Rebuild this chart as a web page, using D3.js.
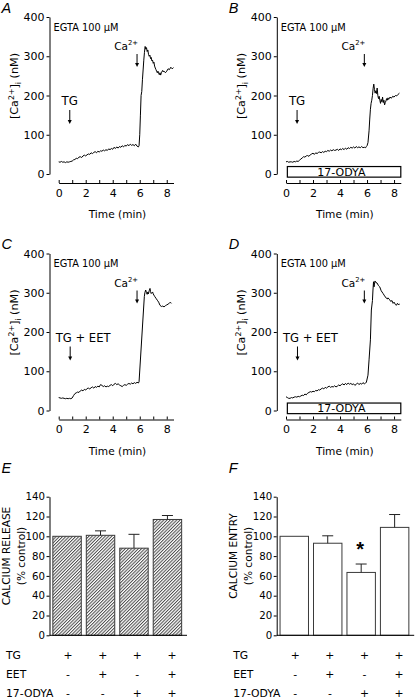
<!DOCTYPE html>
<html><head><meta charset="utf-8">
<script src="https://cdn.jsdelivr.net/npm/d3@7"></script>
<style>
body{margin:0;background:#fff}
svg{display:block;font-family:"DejaVu Sans",sans-serif}
</style></head><body>
<svg id="c" width="415" height="699"></svg>
<script>
// ---------- DATA ----------
const traceA = [[0,31],[0.1,30],[0.2,32],[0.3,30],[0.4,31],[0.5,29],[0.6,31],[0.7,30],[0.8,31],[0.9,32],[1.0,33],[1.1,36],[1.2,37],[1.3,40],[1.4,39],[1.5,43],[1.6,44],[1.7,42],[1.8,46],[1.9,48],[2.0,46],[2.1,49],[2.2,51],[2.3,50],[2.4,54],[2.5,52],[2.6,55],[2.7,57],[2.8,54],[2.9,58],[3.0,56],[3.1,59],[3.2,58],[3.3,61],[3.4,59],[3.5,62],[3.6,60],[3.7,64],[3.8,62],[3.9,65],[4.0,63],[4.1,68],[4.2,65],[4.3,69],[4.4,66],[4.5,70],[4.6,68],[4.7,72],[4.8,69],[4.9,73],[5.0,71],[5.1,75],[5.2,72],[5.3,76],[5.4,73],[5.5,75],[5.6,72],[5.7,76],[5.8,71],[5.9,69],[5.95,72],[6.0,100],[6.05,150],[6.1,200],[6.15,210],[6.2,240],[6.25,265],[6.3,290],[6.35,310],[6.4,325],[6.45,318],[6.5,322],[6.55,312],[6.6,316],[6.65,305],[6.7,300],[6.75,303],[6.8,294],[6.85,297],[6.9,288],[6.95,290],[7.0,282],[7.05,285],[7.1,275],[7.15,270],[7.2,266],[7.25,262],[7.3,258],[7.35,262],[7.4,256],[7.45,253],[7.5,258],[7.55,252],[7.6,258],[7.7,264],[7.75,260],[7.8,262],[7.9,258],[8.0,262],[8.1,268],[8.2,266],[8.3,272],[8.4,268],[8.5,271]];
const traceB = [[0,31],[0.1,32],[0.2,30],[0.3,31],[0.4,31],[0.5,30],[0.6,32],[0.7,31],[0.8,33],[0.9,32],[1.0,35],[1.1,38],[1.2,41],[1.3,44],[1.4,43],[1.5,46],[1.6,47],[1.7,45],[1.8,49],[1.9,51],[2.0,53],[2.1,50],[2.2,54],[2.3,52],[2.4,55],[2.5,56],[2.6,54],[2.7,57],[2.8,55],[2.9,58],[3.0,57],[3.1,60],[3.2,58],[3.3,61],[3.4,59],[3.5,62],[3.6,60],[3.7,61],[3.8,63],[3.9,60],[4.0,64],[4.1,62],[4.2,65],[4.3,62],[4.4,66],[4.5,63],[4.6,67],[4.7,65],[4.8,68],[4.9,66],[5.0,69],[5.1,66],[5.2,70],[5.3,67],[5.4,69],[5.5,67],[5.6,70],[5.7,67],[5.8,68],[5.9,67],[5.95,70],[6.0,72],[6.07,80],[6.15,110],[6.2,140],[6.25,165],[6.3,180],[6.35,188],[6.4,200],[6.45,218],[6.5,229],[6.55,215],[6.6,206],[6.65,212],[6.7,205],[6.75,219],[6.8,200],[6.85,192],[6.9,198],[6.95,188],[7.0,180],[7.05,190],[7.1,184],[7.15,196],[7.2,182],[7.25,188],[7.3,176],[7.35,182],[7.4,186],[7.45,192],[7.5,188],[7.55,194],[7.6,190],[7.7,196],[7.8,193],[7.9,198],[8.0,196],[8.1,200],[8.2,199],[8.3,203],[8.4,206]];
const traceC = [[0,33],[0.1,32],[0.2,31],[0.3,32],[0.4,31],[0.5,30],[0.6,31],[0.7,30],[0.8,31],[0.9,30],[1.0,32],[1.1,38],[1.2,43],[1.3,45],[1.4,47],[1.5,46],[1.6,50],[1.7,52],[1.8,50],[1.9,54],[2.0,52],[2.1,56],[2.2,57],[2.3,55],[2.4,58],[2.5,60],[2.6,57],[2.7,61],[2.8,59],[2.9,62],[3.0,60],[3.1,66],[3.2,64],[3.3,61],[3.4,63],[3.5,60],[3.6,62],[3.7,61],[3.8,64],[3.9,66],[4.0,63],[4.1,67],[4.2,69],[4.3,66],[4.4,68],[4.5,65],[4.6,63],[4.7,61],[4.8,64],[4.9,66],[5.0,64],[5.1,67],[5.2,69],[5.3,67],[5.4,70],[5.5,68],[5.6,71],[5.7,69],[5.8,72],[5.9,70],[5.95,73],[6.34,290],[6.38,300],[6.44,307],[6.5,300],[6.55,296],[6.6,302],[6.64,297],[6.7,305],[6.76,311],[6.8,303],[6.85,298],[6.9,300],[6.95,302],[7.0,297],[7.05,294],[7.1,291],[7.2,286],[7.3,281],[7.4,276],[7.5,268],[7.6,265],[7.7,266],[7.8,264],[7.9,267],[8.0,269],[8.1,271],[8.2,274],[8.3,275],[8.35,273]];
const traceD = [[0,35],[0.1,33],[0.2,31],[0.3,31],[0.4,33],[0.5,32],[0.6,34],[0.7,35],[0.8,34],[0.9,36],[1.0,35],[1.1,37],[1.2,39],[1.3,38],[1.4,42],[1.5,40],[1.6,44],[1.7,46],[1.8,48],[1.9,47],[2.0,49],[2.1,48],[2.2,51],[2.3,50],[2.4,53],[2.5,52],[2.6,55],[2.7,57],[2.8,55],[2.9,59],[3.0,57],[3.1,60],[3.2,62],[3.3,59],[3.4,61],[3.5,60],[3.6,63],[3.7,60],[3.8,62],[3.9,65],[4.0,63],[4.1,66],[4.2,68],[4.3,65],[4.4,69],[4.5,66],[4.6,70],[4.7,67],[4.8,69],[4.9,66],[5.0,68],[5.1,64],[5.2,67],[5.3,70],[5.4,66],[5.5,69],[5.6,67],[5.7,71],[5.8,68],[5.9,70],[5.95,72],[6.07,90],[6.15,129],[6.25,180],[6.32,256],[6.4,280],[6.44,307],[6.48,328],[6.52,315],[6.55,322],[6.59,330],[6.65,326],[6.74,325],[6.85,318],[6.94,315],[7.05,305],[7.19,298],[7.3,292],[7.43,286],[7.5,284],[7.55,287],[7.68,282],[7.75,278],[7.85,280],[7.93,273],[8.0,276],[8.1,270],[8.17,268],[8.25,273],[8.3,270],[8.42,271]];

const traceYTicks = [0, 100, 200, 300, 400];
const traceXTicks = [0, 1, 2, 3, 4, 5, 6, 7, 8];
const traceXLabels = [0, 2, 4, 6, 8];

const barCategories = ["TG", "TG+EET", "TG+17-ODYA", "TG+EET+17-ODYA"];
const releaseMean = [100, 101, 88, 117];
const releaseSem  = [0, 4.5, 14, 4];
const entryMean   = [100, 93, 63.5, 109];
const entrySem    = [0, 7.5, 8.5, 13];
const barYTicks   = [0, 20, 40, 60, 80, 100, 120, 140];
const tableRows   = ["TG", "EET", "17-ODYA"];
const tableSigns  = [["+","+","+","+"], ["-","+","-","+"], ["-","-","+","+"]];

// ---------- DRAW ----------
const FONT = '"DejaVu Sans",sans-serif';
const svg = d3.select("#c");
const defs = svg.append("defs");
const pat = defs.append("pattern").attr("id","hatch").attr("patternUnits","userSpaceOnUse")
  .attr("width",2.3).attr("height",2.3).attr("patternTransform","rotate(45)");
pat.append("rect").attr("width",2.3).attr("height",2.3).attr("fill","#fff");
pat.append("line").attr("x1",0.5).attr("y1",0).attr("x2",0.5).attr("y2",2.3).attr("stroke","#4a4a4a").attr("stroke-width",1);

function styleAxis(g, fs){
  g.selectAll("path,line").attr("stroke","#000").attr("stroke-width",1);
  g.selectAll("text").attr("fill","#000").attr("font-family",FONT).attr("font-size",fs);
}

function arrow(g, x, y1, y2){
  g.append("line").attr("x1",x).attr("x2",x).attr("y1",y1).attr("y2",y2-3).attr("stroke","#000").attr("stroke-width",1);
  g.append("path").attr("d",`M${x-2},${y2-4}L${x+2},${y2-4}L${x},${y2}Z`).attr("fill","#000");
}

function tracePanel(opt){
  const {ox, oy, data, letter, tgLabel, odya} = opt;
  const g = svg.append("g");
  const x = d3.scaleLinear().domain([0,8.5]).range([58.7+ox, 173.5+ox]);
  const y = d3.scaleLinear().domain([0,400]).range([174+oy, 17+oy]);

  const ya = g.append("g").attr("transform",`translate(${49.5+ox},0)`)
    .call(d3.axisLeft(y).tickValues(traceYTicks).tickSize(3).tickSizeOuter(0).tickPadding(2));
  styleAxis(ya, 11);

  const xa = g.append("g").attr("transform",`translate(0,${183+oy})`)
    .call(d3.axisBottom(x).tickValues(traceXTicks).tickSize(-3).tickSizeOuter(0).tickPadding(6)
      .tickFormat(d => traceXLabels.includes(d) ? d : ""));
  styleAxis(xa, 11);

  g.append("text").attr("x",117.5+ox).attr("y",218+oy).attr("text-anchor","middle").attr("font-size",10.6).text("Time (min)");

  const yl = g.append("text").attr("transform",`translate(${18+ox},${86+oy}) rotate(-90)`)
    .attr("text-anchor","middle").attr("font-size",11.2);
  yl.append("tspan").text("[Ca");
  yl.append("tspan").attr("dy",-4.5).attr("font-size",7.8).text("2+");
  yl.append("tspan").attr("dy",4.5).text("]");
  yl.append("tspan").attr("dy",3).attr("font-size",7.8).text("i");
  yl.append("tspan").attr("dy",-3).text(" (nM)");

  g.append("text").attr("x",1.5+ox).attr("y",12.5+oy).attr("font-size",14.5).attr("font-style","italic")
    .attr("font-family",'"Liberation Sans",Arial,sans-serif').text(letter);
  g.append("text").attr("x",53.5+ox).attr("y",30.7+oy).attr("font-size",9.8).text("EGTA 100 µM");

  if (odya){
    g.append("rect").attr("x",x(0.1)).attr("y",y(19)).attr("width",x(8.5)-x(0.1)).attr("height",y(-8)-y(19))
      .attr("fill","#fff").attr("stroke","#000").attr("stroke-width",1.2);
    g.append("text").attr("x",x(4.1)).attr("y",y(-4.8)).attr("text-anchor","middle").attr("font-size",11).text("17-ODYA");
  }

  const line = d3.line().x(d => x(d[0])).y(d => y(d[1]));
  g.append("path").datum(data).attr("d",line).attr("fill","none").attr("stroke","#000").attr("stroke-width",1).attr("stroke-linejoin","round");

  // Ca2+ annotation
  const xc = x(5.8);
  const ct = g.append("text").attr("x",xc+1).attr("y",50+oy).attr("text-anchor","end").attr("font-size",10.5);
  ct.append("tspan").text("Ca");
  ct.append("tspan").attr("dy",-5).attr("font-size",6.8).text("2+");
  arrow(g, xc, 54+oy, 67+oy);

  // TG annotation
  const xt = x(tgLabel === "TG" ? 0.82 : 0.85);
  if (tgLabel === "TG"){
    g.append("text").attr("x",xt).attr("y",105+oy).attr("text-anchor","middle").attr("font-size",11.8).text("TG");
  } else {
    g.append("text").attr("x",xt-14.5).attr("y",105+oy).attr("font-size",11.6).text(tgLabel);
  }
  arrow(g, xt, 110+oy, 124+oy);
}

tracePanel({ox:0, oy:0, data:traceA, letter:"A", tgLabel:"TG", odya:false});
tracePanel({ox:227.3, oy:0, data:traceB, letter:"B", tgLabel:"TG", odya:true});
tracePanel({ox:0, oy:236.5, data:traceC, letter:"C", tgLabel:"TG + EET", odya:false});
tracePanel({ox:227.3, oy:236.5, data:traceD, letter:"D", tgLabel:"TG + EET", odya:true});

function barPanel(opt){
  const {ox, means, sems, letter, label, fill, star} = opt;
  const g = svg.append("g");
  const y = d3.scaleLinear().domain([0,140]).range([635.3, 496.7]);
  const x = d3.scaleBand().domain(barCategories).range([49.5+ox, 185+ox]).paddingInner(0.15).paddingOuter(0.1);

  g.selectAll("rect.bar").data(barCategories).join("rect").attr("class","bar")
    .attr("x", d => x(d)).attr("width", x.bandwidth())
    .attr("y", (d,i) => y(means[i])).attr("height", (d,i) => y(0) - y(means[i]))
    .attr("fill", fill).attr("stroke","#3a3a3a").attr("stroke-width",1);

  barCategories.forEach((c,i) => {
    if (!sems[i]) return;
    const cx = x(c) + x.bandwidth()/2;
    g.append("line").attr("x1",cx).attr("x2",cx).attr("y1",y(means[i])).attr("y2",y(means[i]+sems[i])).attr("stroke","#222");
    g.append("line").attr("x1",cx-5.5).attr("x2",cx+5.5).attr("y1",y(means[i]+sems[i])).attr("y2",y(means[i]+sems[i])).attr("stroke","#222");
  });

  const ya = g.append("g").attr("transform",`translate(${49.5+ox},0)`)
    .call(d3.axisLeft(y).tickValues(barYTicks).tickSize(3).tickSizeOuter(0).tickPadding(1.5));
  styleAxis(ya, 10.2);
  g.append("line").attr("x1",49.5+ox).attr("x2",187+ox).attr("y1",y(0)).attr("y2",y(0)).attr("stroke","#000");

  if (star !== undefined){
    const cx = x(barCategories[star]) + x.bandwidth()/2;
    g.append("text").attr("x",cx-1).attr("y",y(means[star]+sems[star]) - 8).attr("text-anchor","middle")
      .attr("font-size",20).attr("font-weight","bold").attr("font-family",'"Liberation Sans",Arial,sans-serif').text("*");
  }

  g.append("text").attr("transform",`translate(${9.5+ox},556) rotate(-90)`).attr("text-anchor","middle").attr("font-size",10.6).text(label);
  g.append("text").attr("transform",`translate(${24.5+ox},556) rotate(-90)`).attr("text-anchor","middle").attr("font-size",10.6).text("(% control)");
  g.append("text").attr("x",1.5+ox).attr("y",473).attr("font-size",14.5).attr("font-style","italic")
    .attr("font-family",'"Liberation Sans",Arial,sans-serif').text(letter);

  const tx = d3.scalePoint().domain(barCategories)
    .range([x(barCategories[0]) + x.bandwidth()/2 + 1, x(barCategories[3]) + x.bandwidth()/2 + 4.5]);
  const rowY = d3.scalePoint().domain(tableRows).range([659, 696.5]);
  tableRows.forEach((r,ri) => {
    g.append("text").attr("x",6+ox).attr("y",rowY(r)).attr("font-size",10.8).text(r);
    barCategories.forEach((c,ci) => {
      g.append("text").attr("x",tx(c)).attr("y",rowY(r)).attr("text-anchor","middle").attr("font-size",10.8).text(tableSigns[ri][ci]);
    });
  });
}

barPanel({ox:0, means:releaseMean, sems:releaseSem, letter:"E", label:"CALCIUM RELEASE", fill:"url(#hatch)"});
barPanel({ox:227.2, means:entryMean, sems:entrySem, letter:"F", label:"CALCIUM ENTRY", fill:"#fff", star:2});
</script>
</body></html>
